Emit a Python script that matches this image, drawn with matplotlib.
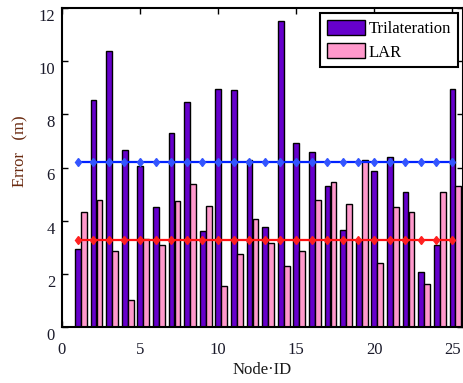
import matplotlib
matplotlib.use("Agg")
import matplotlib.pyplot as plt
import matplotlib.transforms as mtransforms
import numpy as np

node_ids = list(range(1, 26))
trilateration = [2.93, 8.53, 10.37, 6.64, 6.04, 4.52, 7.28, 8.45, 3.60, 8.97,
                 8.90, 6.30, 3.77, 11.50, 6.93, 6.59, 5.29, 3.65, 3.26, 5.86,
                 6.38, 5.08, 2.08, 3.09, 8.97]
lar = [4.34, 4.78, 2.86, 1.01, 3.31, 3.09, 4.74, 5.37, 4.56, 1.55,
       2.75, 4.05, 3.15, 2.30, 2.86, 4.78, 5.46, 4.62, 6.30, 2.42,
       4.50, 4.34, 1.61, 5.07, 5.29]
tri_avg = [6.19] * 25
lar_avg = [3.28] * 25
x_ticks = [0, 5, 10, 15, 20, 25]
y_ticks = [0, 2, 4, 6, 8, 10, 12]

plt.rcParams['font.family'] = ['Liberation Serif', 'DejaVu Serif']

fig = plt.figure(figsize=(4.64, 3.83), dpi=100)
ax = fig.add_axes([62/464, 56/383, 401/464, 319/383])

x = np.array(node_ids, dtype=float)
w = 0.37
ax.bar(x + 0.02, trilateration, width=w, color='#6600CC', edgecolor='black',
       linewidth=1.0, label='Trilateration', zorder=2)
ax.bar(x + 0.40, lar, width=w, color='#FF99CC', edgecolor='black',
       linewidth=1.0, label='LAR', zorder=2)

ax.plot(x, tri_avg, color='#0022FF', linewidth=1.6, marker='d',
        markersize=4.5, markerfacecolor='#3355FF', markeredgecolor='#3355FF',
        zorder=3)
ax.plot(x, lar_avg, color='#FF1010', linewidth=1.6, marker='d',
        markersize=4.5, markerfacecolor='#FF2020', markeredgecolor='#FF2020',
        zorder=3)

ax.set_xlim(0, 25.7)
ax.set_ylim(0, 12)
ax.set_xticks(x_ticks)
ax.set_yticks(y_ticks)
ax.tick_params(direction='in', top=True, right=True, labelsize=12,
               labelcolor='#1a1a2a', length=4, width=1)
ax.tick_params(axis='x', pad=11)
ax.tick_params(axis='y', pad=5)
offset = mtransforms.ScaledTranslation(0, -7/100, fig.dpi_scale_trans)
for lbl in ax.get_yticklabels():
    lbl.set_transform(lbl.get_transform() + offset)
for s in ax.spines.values():
    s.set_linewidth(1.5)

ax.set_xlabel('Node·ID', fontsize=12, color='#1a1a1a', labelpad=3)
ax.set_ylabel('Error   (m)', fontsize=12, color='#6a2a10')
ax.yaxis.label.set_verticalalignment('center')
ax.yaxis.set_label_coords(-0.105, 0.552)

leg = ax.legend(loc='upper right', fontsize=12, fancybox=False,
                edgecolor='black', framealpha=1, handlelength=2.28,
                handleheight=1.0, borderpad=0.4, labelspacing=0.4,
                handletextpad=0.25, borderaxespad=0.3)
leg.get_frame().set_linewidth(1.5)

fig.savefig('out.png', dpi=100)
